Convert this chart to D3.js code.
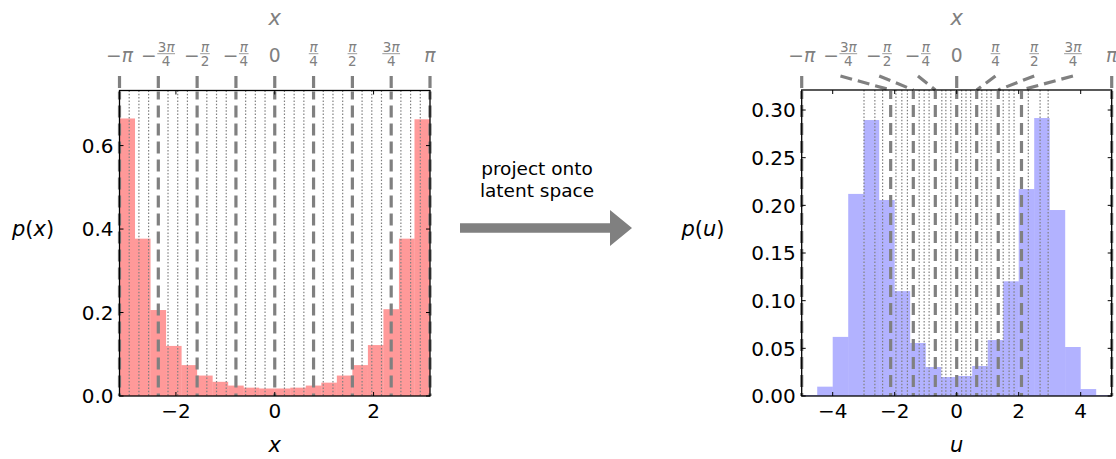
<!DOCTYPE html>
<html>
<head>
<meta charset="utf-8">
<script src="https://cdn.jsdelivr.net/npm/d3@7"></script>
<style>
  body { margin: 0; background: #fff; }
  svg { font-family: "DejaVu Sans", sans-serif; }
</style>
</head>
<body>
<svg id="chart" width="1116" height="459"></svg>
<script>
const PI = Math.PI

// p(x): 20 equal bins on [-pi, pi]
const pxValues = [0.665, 0.377, 0.206, 0.120, 0.074, 0.049, 0.034, 0.025, 0.020, 0.018,
  0.018, 0.020, 0.025, 0.032, 0.049, 0.074, 0.122, 0.208, 0.377, 0.663]
// p(u): 20 equal bins on [-5, 5]
const puValues = [0.001, 0.0098, 0.062, 0.212, 0.2895, 0.2056, 0.110, 0.0556, 0.0304, 0.0199,
  0.021, 0.0315, 0.0587, 0.1203, 0.2171, 0.2916, 0.1951, 0.0514, 0.0073, 0.001]

// top axis: multiples of pi/4
const topQuarters = [-4, -3, -2, -1, 0, 1, 2, 3, 4]
const topTickLabels = ['−π', '−3π/4', '−π/2', '−π/4', '0', 'π/4', 'π/2', '3π/4', 'π']
// where x = q*pi/4 lands in latent space
const uOfQuarters = [-5, -2.13, -1.40, -0.69, 0, 0.645, 1.34, 2.09, 5]
// where the other multiples of pi/16 land in latent space
const uOfSixteenths = [-2.99, -2.64, -2.39, -1.96, -1.77, -1.59, -1.21, -1.05, -0.89, -0.48, -0.35, -0.19,
  0.16, 0.30, 0.45, 0.81, 0.97, 1.11, 1.50, 1.69, 1.85, 2.31, 2.69, 2.95]

const xTicks = [-2, 0, 2]
const uTicks = [-4, -2, 0, 2, 4]
const pxTicks = [0, 0.2, 0.4, 0.6]
const puTicks = [0, 0.05, 0.10, 0.15, 0.20, 0.25, 0.30]

const grey = '#808080'
const fontSize = 18.7
const tickSize = 20
const svg = d3.select('#chart')

const addMath = (text, str) => {
  // letters in italic, everything else upright, like mathtext
  for (const ch of str) {
    text.append('tspan')
      .style('font-style', /[a-zπ]/.test(ch) ? 'italic' : 'normal')
      .text(ch)
  }
  return text
}

const drawTopLabel = (g, cx, label) => {
  const lg = g.append('g')
  let w = 0
  const parts = label.split('/')
  let head = parts[0]
  if (head.startsWith('−') && parts.length > 1) {
    const s = lg.append('text').attr('x', 0).attr('y', 62)
      .style('font-size', fontSize + 'px').attr('fill', grey).text('−')
    w += s.node().getComputedTextLength()
    head = head.slice(1)
  }
  if (parts.length > 1) {
    const num = addMath(lg.append('text').attr('y', 51.5), head)
      .style('font-size', '13.5px').attr('fill', grey).attr('text-anchor', 'middle')
    const den = addMath(lg.append('text').attr('y', 65.5), parts[1])
      .style('font-size', '13.5px').attr('fill', grey).attr('text-anchor', 'middle')
    const fw = Math.max(num.node().getComputedTextLength(), den.node().getComputedTextLength()) + 1
    num.attr('x', w + fw / 2 + 0.5)
    den.attr('x', w + fw / 2 + 0.5)
    lg.append('line').attr('x1', w + 0.5).attr('x2', w + fw + 0.5)
      .attr('y1', 53.7).attr('y2', 53.7).attr('stroke', grey).attr('stroke-width', 0.8)
    w += fw + 1
  } else {
    const t = addMath(lg.append('text').attr('x', 0).attr('y', 62), head)
      .style('font-size', fontSize + 'px').attr('fill', grey)
    w += t.node().getComputedTextLength()
  }
  lg.attr('transform', `translate(${cx - w / 2},0)`)
}

const drawPanel = (opt) => {
  const {x0, x1, y0, y1, domain, yMax, values, fill, opacity, ticksX, ticksY, fmtY,
    quarterPos, dottedPos, xLabel, yLabel, yLabelX} = opt
  const g = svg.append('g')
  const x = d3.scaleLinear().domain(domain).range([x0, x1])
  const y = d3.scaleLinear().domain([0, yMax]).range([y1, y0])
  const top = d3.scaleLinear().domain([-PI, PI]).range([x0, x1])
  const binW = (domain[1] - domain[0]) / values.length

  // Bars
  g.selectAll('rect.bar')
    .data(values)
    .enter()
    .append('rect')
    .attr('class', 'bar')
    .attr('x', (d, i) => x(domain[0] + i * binW))
    .attr('width', (d, i) => x(domain[0] + (i + 1) * binW) - x(domain[0] + i * binW))
    .attr('y', d => y(d))
    .attr('height', d => y1 - y(d))
    .attr('fill', fill)
    .attr('fill-opacity', opacity)

  // Dotted pi/16 lines
  g.selectAll('line.dot')
    .data(dottedPos)
    .enter()
    .append('line')
    .attr('x1', d => x(d)).attr('x2', d => x(d))
    .attr('y1', y0).attr('y2', y1)
    .attr('stroke', grey)
    .attr('stroke-width', 1.2)
    .attr('stroke-dasharray', '1.5,1.8')

  // Dashed pi/4 lines, joined to the top axis
  topQuarters.forEach((q, i) => {
    const xt = top(q * PI / 4)
    const xb = x(quarterPos[i])
    g.append('line')
      .attr('x1', xt).attr('y1', 76).attr('x2', xb).attr('y2', y0)
      .attr('stroke', grey).attr('stroke-width', 3.2)
      .attr('stroke-dasharray', '12,6')
    g.append('line')
      .attr('x1', xb).attr('y1', y0 + 1).attr('x2', xb).attr('y2', y1)
      .attr('stroke', grey).attr('stroke-width', 3.2)
      .attr('stroke-dasharray', '12,6')
      .attr('stroke-dashoffset', 4)
    drawTopLabel(g, xt, topTickLabels[i])
  })

  // Frame and inward ticks
  g.append('rect')
    .attr('x', x0).attr('y', y0).attr('width', x1 - x0).attr('height', y1 - y0)
    .attr('fill', 'none').attr('stroke', '#000').attr('stroke-width', 1.3)
  ticksX.forEach(t => {
    g.append('line').attr('x1', x(t)).attr('x2', x(t)).attr('y1', y1).attr('y2', y1 - 4)
      .attr('stroke', '#000').attr('stroke-width', 1)
    g.append('line').attr('x1', x(t)).attr('x2', x(t)).attr('y1', y0).attr('y2', y0 + 4)
      .attr('stroke', '#000').attr('stroke-width', 1)
    g.append('text').attr('x', x(t)).attr('y', y1 + 22)
      .attr('text-anchor', 'middle').style('font-size', tickSize + 'px')
      .text(d3.format('d')(t))
  })
  ticksY.forEach(t => {
    g.append('line').attr('x1', x0).attr('x2', x0 + 4).attr('y1', y(t)).attr('y2', y(t))
      .attr('stroke', '#000').attr('stroke-width', 1)
    g.append('line').attr('x1', x1).attr('x2', x1 - 4).attr('y1', y(t)).attr('y2', y(t))
      .attr('stroke', '#000').attr('stroke-width', 1)
    g.append('text').attr('x', x0 - 6).attr('y', y(t)).attr('dy', '0.36em')
      .attr('text-anchor', 'end').style('font-size', tickSize + 'px')
      .text(d3.format(fmtY)(t))
  })

  // Axis titles
  addMath(g.append('text'), xLabel)
    .attr('x', (x0 + x1) / 2).attr('y', 452).attr('text-anchor', 'middle')
    .style('font-size', '21px')
  addMath(g.append('text'), 'x')
    .attr('x', (x0 + x1) / 2).attr('y', 25).attr('text-anchor', 'middle')
    .style('font-size', '21px').attr('fill', grey)
  addMath(g.append('text'), yLabel)
    .attr('x', yLabelX).attr('y', 236).attr('text-anchor', 'middle')
    .style('font-size', '21px')
}

drawPanel({
  x0: 119.5, x1: 430, y0: 90.5, y1: 396,
  domain: [-PI, PI], yMax: 0.732, values: pxValues, fill: 'red', opacity: 0.4,
  ticksX: xTicks, ticksY: pxTicks, fmtY: '.1f',
  quarterPos: topQuarters.map(q => q * PI / 4),
  dottedPos: d3.range(-15, 16).filter(k => k % 4 !== 0).map(k => k * PI / 16),
  xLabel: 'x', yLabel: 'p(x)', yLabelX: 33
})

drawPanel({
  x0: 801.7, x1: 1111.7, y0: 90, y1: 396,
  domain: [-5, 5], yMax: 0.321, values: puValues, fill: 'blue', opacity: 0.3,
  ticksX: uTicks, ticksY: puTicks, fmtY: '.2f',
  quarterPos: uOfQuarters, dottedPos: uOfSixteenths,
  xLabel: 'u', yLabel: 'p(u)', yLabelX: 703
})

// Arrow between the panels
const arrow = d3.path()
arrow.moveTo(460, 223.3)
arrow.lineTo(610, 223.3)
arrow.lineTo(610, 210)
arrow.lineTo(632, 228)
arrow.lineTo(610, 246)
arrow.lineTo(610, 232.7)
arrow.lineTo(460, 232.7)
arrow.closePath()
svg.append('path').attr('d', arrow.toString()).attr('fill', grey)

svg.append('text').attr('x', 537).attr('y', 175).attr('text-anchor', 'middle')
  .style('font-size', '18.5px').text('project onto')
svg.append('text').attr('x', 537).attr('y', 197).attr('text-anchor', 'middle')
  .style('font-size', '18.5px').text('latent space')
</script>
</body>
</html>
